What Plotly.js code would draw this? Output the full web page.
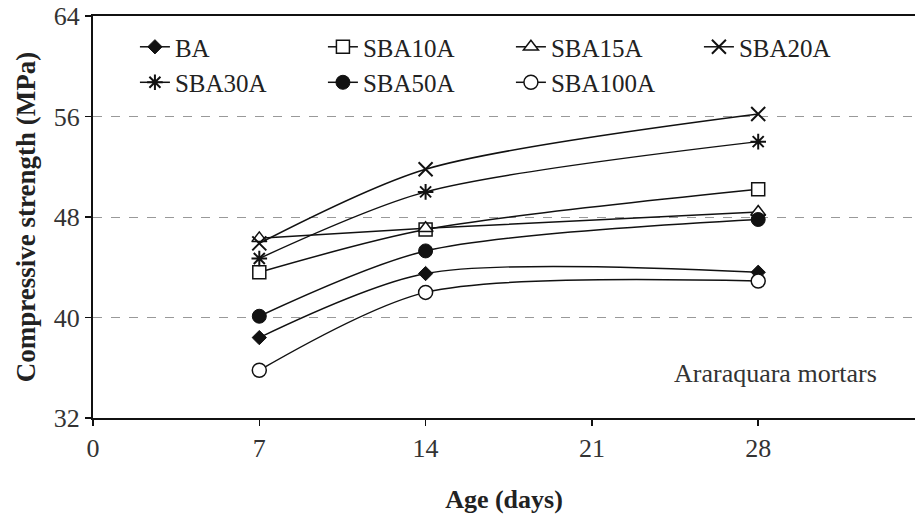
<!DOCTYPE html>
<html>
<head>
<meta charset="utf-8">
<script src="https://cdn.plot.ly/plotly-3.0.1.min.js"></script>
<style>html,body{margin:0;padding:0;background:#fff;}#chart{width:915px;height:514px;}</style>
</head>
<body>
<div id="chart"></div>
<script>
// Data
const ages = [7, 14, 28];
const seriesNames = ["BA", "SBA10A", "SBA15A", "SBA20A", "SBA30A", "SBA50A", "SBA100A"];
const BA = [38.4, 43.5, 43.6];
const SBA10A = [43.6, 47.0, 50.2];
const SBA15A = [46.3, 47.1, 48.4];
const SBA20A = [45.9, 51.8, 56.2];
const SBA30A = [44.7, 50.0, 54.0];
const SBA50A = [40.1, 45.3, 47.8];
const SBA100A = [35.8, 42.0, 42.9];
const xTicks = [0, 7, 14, 21, 28];
const yTicks = [32, 40, 48, 56, 64];

const values = [BA, SBA10A, SBA15A, SBA20A, SBA30A, SBA50A, SBA100A];
const markerStyles = [
  {symbol: "diamond", size: 11, color: "#111", line: {color: "#111", width: 1}},
  {symbol: "square", size: 13, color: "#fff", line: {color: "#111", width: 1.5}},
  {symbol: "triangle-up", size: 13, color: "#fff", line: {color: "#111", width: 1.5}},
  {symbol: "x-thin-open", size: 14, color: "#111", line: {color: "#111", width: 2}},
  {symbol: "asterisk-open", size: 13, color: "#111", line: {color: "#111", width: 2}},
  {symbol: "circle", size: 14, color: "#111", line: {color: "#111", width: 1}},
  {symbol: "circle", size: 14, color: "#fff", line: {color: "#111", width: 1.5}}
];

const traces = seriesNames.map((name, i) => ({
  type: "scatter",
  mode: "lines+markers",
  name: name,
  x: ages,
  y: values[i],
  line: {color: "#111", width: 1.5, shape: "spline", smoothing: 0.8},
  marker: markerStyles[i]
}));

const serif = "Liberation Serif";

const layout = {
  width: 915,
  height: 514,
  margin: {l: 93, r: 0, t: 16, b: 96},
  paper_bgcolor: "#fff",
  plot_bgcolor: "#fff",
  font: {family: serif, color: "#222", size: 22},
  showlegend: true,
  legend: {
    orientation: "h",
    x: 0.051, y: 0.98,
    xanchor: "left", yanchor: "top",
    entrywidth: 143,
    entrywidthmode: "pixels",
    font: {family: serif, size: 25, color: "#222"},
    bgcolor: "rgba(0,0,0,0)",
    itemwidth: 30,
    tracegroupgap: 0
  },
  xaxis: {
    range: [0, 34.6],
    tickvals: xTicks,
    ticktext: xTicks.map(String),
    ticks: "outside",
    ticklen: 6,
    tickwidth: 1.5,
    tickcolor: "#111",
    showline: true,
    linecolor: "#111",
    linewidth: 2,
    mirror: true,
    showgrid: false,
    zeroline: false,
    tickfont: {family: serif, size: 26, color: "#333"},
    title: {text: "<b>Age (days)</b>", font: {family: serif, size: 26, color: "#222"}, standoff: 30}
  },
  yaxis: {
    range: [32, 64],
    tickvals: yTicks,
    ticktext: yTicks.map(String),
    ticks: "outside",
    ticklen: 6,
    tickwidth: 1.5,
    tickcolor: "#111",
    showline: true,
    linecolor: "#111",
    linewidth: 2,
    mirror: false,
    showgrid: true,
    gridcolor: "#999",
    griddash: "dash",
    gridwidth: 1,
    zeroline: false,
    tickfont: {family: serif, size: 26, color: "#333"},
    title: {text: "<b>Compressive strength (MPa)</b>", font: {family: serif, size: 27, color: "#222"}, standoff: 10}
  },
  annotations: [{
    text: "Araraquara mortars",
    xref: "paper", yref: "paper",
    x: 0.83, y: 0.11,
    xanchor: "center", yanchor: "middle",
    showarrow: false,
    font: {family: serif, size: 26, color: "#333"}
  }]
};

Plotly.newPlot("chart", traces, layout, {displayModeBar: false, staticPlot: true});
</script>
</body>
</html>
